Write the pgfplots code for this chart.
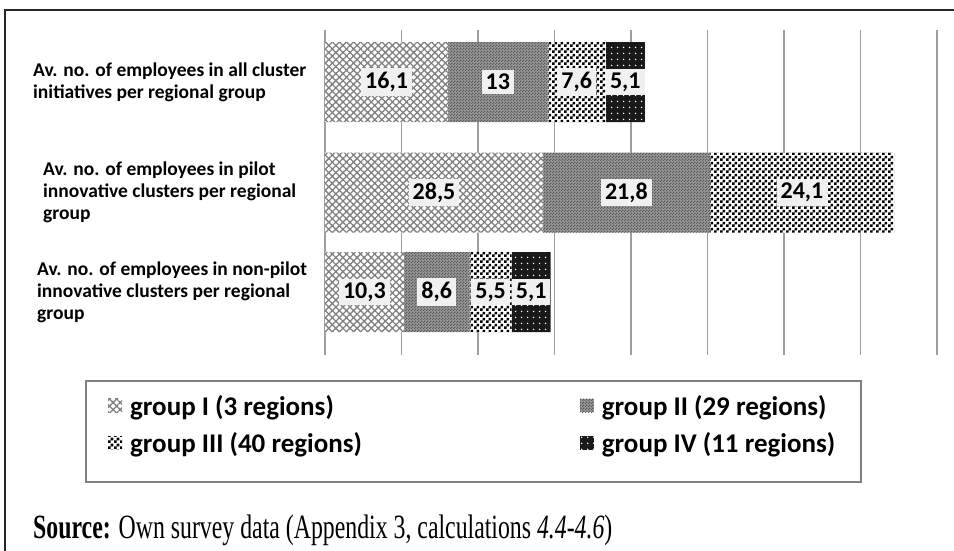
\documentclass[border=0pt]{standalone}
\usepackage{pgfplots}
\pgfplotsset{compat=1.18}
\usepackage{pgfplotstable}
\usepackage{graphicx}
\usepackage{fontspec}
\usetikzlibrary{patterns,patterns.meta}
\setmainfont{Carlito}
\newfontfamily\seriffont{Liberation Serif}

% fine and coarse checkerboards for the bar fills
\pgfdeclarepatternformonly{finechecker}{\pgfpointorigin}{\pgfqpoint{3bp}{3bp}}{\pgfqpoint{3bp}{3bp}}{%
  \pgfpathrectangle{\pgfpointorigin}{\pgfqpoint{1.5bp}{1.5bp}}%
  \pgfpathrectangle{\pgfqpoint{1.5bp}{1.5bp}}{\pgfqpoint{1.5bp}{1.5bp}}%
  \pgfusepath{fill}}
\pgfdeclarepatternformonly{coarsechecker}{\pgfpointorigin}{\pgfqpoint{6bp}{6bp}}{\pgfqpoint{6bp}{6bp}}{%
  \pgfpathrectangle{\pgfpointorigin}{\pgfqpoint{3bp}{3bp}}%
  \pgfpathrectangle{\pgfqpoint{3bp}{3bp}}{\pgfqpoint{3bp}{3bp}}%
  \pgfusepath{fill}}

% average number of employees per regional group (pos = bar position)
\pgfplotstableread{
pos    g1    g2    g3    g4
273    16.1  13    7.6   5.1
63     10.3  8.6   5.5   5.1
162.5  28.5  21.8  24.1  nan
}\employees

\begin{document}
\begin{tikzpicture}
\path[use as bounding box] (0,0) rectangle (954bp,-551bp);
\fill[white] (0,0) rectangle (954bp,-551bp);
\draw[line width=2.5bp, black!85] (5bp,-551bp) -- (5bp,-10bp) -- (956bp,-10bp);
% legend frame
\draw[line width=1.5bp, black!50] (86bp,-381bp) rectangle (861bp,-482bp);
\begin{axis}[
  at={(325bp,-355bp)}, anchor=south west,
  scale only axis, width=612bp, height=325bp,
  xmin=0, xmax=80, ymin=0, ymax=325,
  xbar stacked, bar width=80bp,
  axis line style={draw=none},
  xtick={0,10,...,80}, xticklabels={},
  major tick length=0pt,
  xmajorgrids, major grid style={draw=black!38, line width=1.4bp},
  ytick={63,162.5,273},
  yticklabels={
    {\hspace*{4bp}Av. no. of employees in non-pilot\\\hspace*{4bp}innovative clusters per regional\\\hspace*{4bp}group},
    {\hspace*{10bp}Av. no. of employees in pilot\\\hspace*{10bp}innovative clusters per regional\\\hspace*{10bp}group},
    {Av. no. of employees in all cluster\\initiatives per regional group}},
  yticklabel style={anchor=west, align=left, inner sep=0pt, xshift=-292bp,
    font=\fontsize{19.5bp}{22bp}\selectfont\bfseries},
  point meta=explicit symbolic,
  nodes near coords={\pgfmathprintnumber[use comma, fixed, precision=1, assume math mode=true]{\pgfplotspointmeta}},
  nodes near coords align={center},
  every node near coord/.append style={anchor=center,
    fill=black!6, text=black, inner sep=4bp,
    font=\fontsize{24bp}{28bp}\selectfont\bfseries},
  legend columns=2,
  legend style={
    at={(axis description cs:0,0)}, anchor=north west,
    xshift=-229bp, yshift=-30bp,
    draw=none, fill=none,
    font=\fontsize{27bp}{32bp}\selectfont\bfseries,
    inner xsep=12bp, inner ysep=8bp, row sep=12bp,
    cells={anchor=west},
    /tikz/column 2/.style={column sep=216bp},
  },
  legend image code/.code={\path[#1, draw=none] (0bp,-6.5bp) rectangle (14bp,7bp);
    \path (20bp,0bp);},
]
\addplot[draw=none, fill=white,
  postaction={pattern={Hatch[angle=45,distance=5bp,line width=1.3bp]}, pattern color=black!50}]
  table[x=g1, y=pos, meta=g1] {\employees};
\addlegendentry{group I (3 regions)}
\addplot[draw=none, fill=black!40,
  postaction={pattern=finechecker, pattern color=black!65}]
  table[x=g2, y=pos, meta=g2] {\employees};
\addlegendentry{group II (29 regions)}
\addplot[draw=none, fill=white,
  postaction={pattern=coarsechecker, pattern color=black}]
  table[x=g3, y=pos, meta=g3] {\employees};
\addlegendentry{group III (40 regions)}
\addplot[draw=none, fill=black!90,
  postaction={pattern={Dots[distance=6bp,radius=0.9bp]}, pattern color=white}]
  table[x=g4, y=pos, meta=g4] {\employees};
\addlegendentry{group IV (11 regions)}
\end{axis}
\node[anchor=base west, inner sep=0pt] at (33bp,-538bp)
  {\seriffont\fontsize{34bp}{40bp}\selectfont\scalebox{0.7}[1]{\textbf{Source:} Own survey data (Appendix 3, calculations \textit{4.4-4.6})}};
\end{tikzpicture}
\end{document}
